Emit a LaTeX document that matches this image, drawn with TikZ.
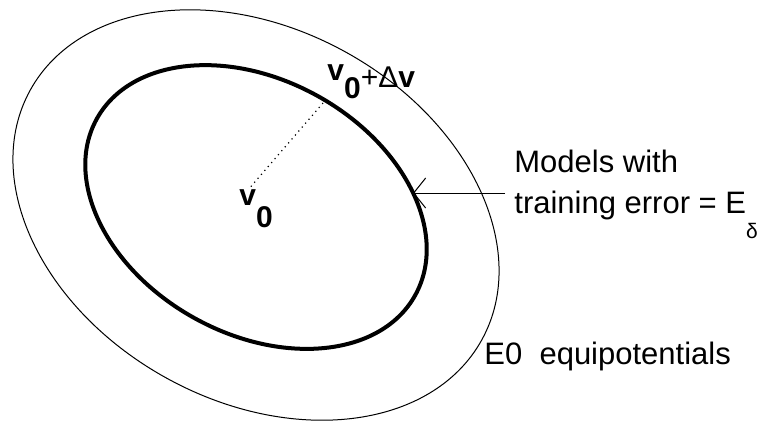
\documentclass[tikz,border=0pt]{standalone}
\usepackage{fontspec}
\setmainfont{Liberation Sans}
\usetikzlibrary{arrows.meta}

\begin{document}
\begin{tikzpicture}[
  x=0.5pt, y=-0.5pt,
  level/.style={line width=0.5pt},
  errlevel/.style={line width=2pt},
  lbl/.style={inner sep=0pt,anchor=base west,font=\fontsize{15.5}{18}\selectfont},
  vlbl/.style={inner sep=0pt,anchor=base west,font=\fontsize{15}{17}\selectfont\bfseries},
  arrow/.style={-{Straight Barb[length=6pt,width=15pt]},line width=0.5pt}
]
  \useasboundingbox (0,0) rectangle (763,420);

  % equipotentials
  \draw[level, rotate around={-29:(256,215)}] (256,215) ellipse [x radius=258, y radius=186];
  \draw[errlevel, rotate around={-29:(256,207)}] (256,207) ellipse [x radius=182, y radius=127];

  % labels
  \node[vlbl] (v0) at (239,205) {v\raisebox{-11pt}{0}};
  \node[vlbl] (vdv) at (327,87) {\raisebox{3.5pt}{v}\raisebox{-5.5pt}{0}{\mdseries+Δ}v};
  \node[lbl] (models) at (514,172) {Models with};
  \node[lbl] (train) at (514,213) {training error = E\raisebox{-12.5pt}{\fontsize{10.5}{10.5}\selectfont δ}};
  \node[lbl] (equi) at (484,364) {E0~ equipotentials};

  \coordinate (rim) at (323,103);
  \coordinate (tip) at (413,193);
  \coordinate (tail) at (505,193);

  \draw[dotted, line width=0.6pt] (rim) -- ([xshift=5pt]v0.north west);
  \draw[arrow] (tail) -- (tip);
\end{tikzpicture}
\end{document}
